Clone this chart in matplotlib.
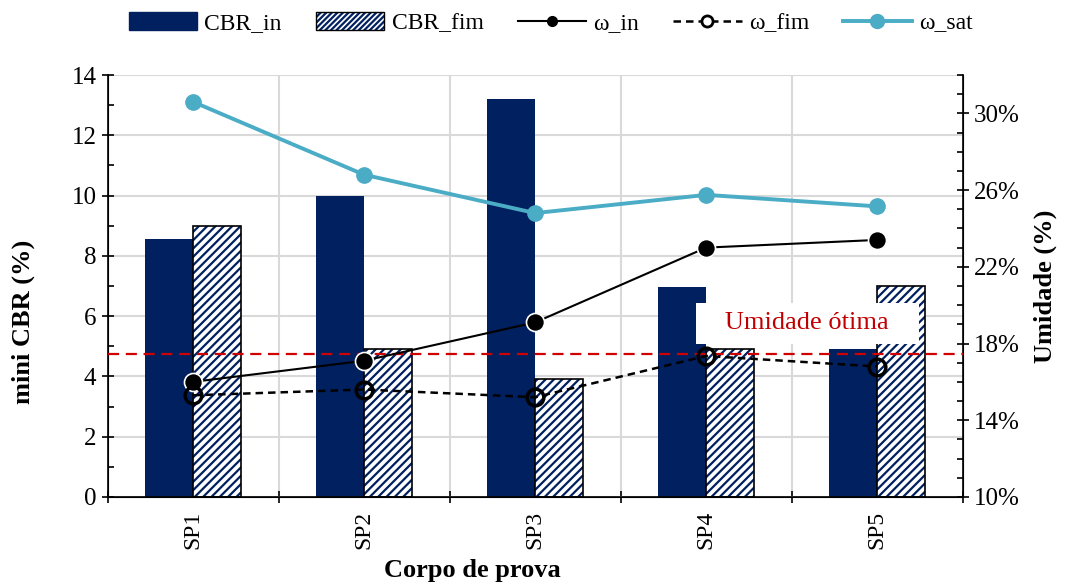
import matplotlib
matplotlib.use("Agg")
import matplotlib.pyplot as plt
from matplotlib.ticker import MultipleLocator, FuncFormatter
from matplotlib.lines import Line2D
from matplotlib.patches import Patch
from matplotlib.legend_handler import HandlerTuple
import numpy as np

# dados
corpos = ["SP1", "SP2", "SP3", "SP4", "SP5"]
cbr_in = [8.55, 10.0, 13.2, 6.95, 4.9]
cbr_fim = [9.0, 4.9, 3.9, 4.9, 7.0]
w_in = [16.0, 17.1, 19.1, 23.0, 23.4]
w_fim = [15.3, 15.6, 15.2, 17.35, 16.8]
w_sat = [30.6, 26.8, 24.8, 25.75, 25.15]
w_otima = 17.45
ticks_umidade = [10, 14, 18, 22, 26, 30]

NAVY = "#002060"
CIANO = "#4BACC6"

plt.rcParams["font.family"] = ["Liberation Serif", "DejaVu Serif"]
plt.rcParams["hatch.linewidth"] = 1.6
plt.rcParams["hatch.color"] = NAVY

fig = plt.figure(figsize=(10.65, 5.86), dpi=100)
ax = fig.add_axes([0.101, 0.152, 0.803, 0.72])
ax2 = ax.twinx()

x = np.arange(len(corpos))
w = 0.28

# barras
ax.bar(x - w / 2, cbr_in, width=w, color=NAVY, zorder=2)
ax.bar(x + w / 2, cbr_fim, width=w, color="white", edgecolor=NAVY,
       hatch="////", linewidth=0, zorder=2)
ax.bar(x + w / 2, cbr_fim, width=w, fill=False, edgecolor="black",
       linewidth=1.2, zorder=3)

ax.set_xlim(-0.5, 4.5)
ax.set_ylim(0, 14)
ax.yaxis.set_major_locator(MultipleLocator(2))
ax.yaxis.set_minor_locator(MultipleLocator(1))
ax.set_xticks(x)
ax.set_xticks(np.arange(-0.5, 5, 1), minor=True)
ax.set_xticklabels(corpos, rotation=90, fontsize=17)
ax.tick_params(axis="y", which="major", labelsize=18, direction="inout",
               length=8, width=1.2, pad=4)
ax.tick_params(axis="y", which="minor", direction="in", length=4, width=1.2)
ax.tick_params(axis="x", which="major", length=0, pad=10)
ax.tick_params(axis="x", which="minor", direction="inout", length=8,
               width=1.2)
ax.set_ylabel("mini CBR (%)", fontsize=19, fontweight="bold")
ax.set_xlabel("Corpo de prova", fontsize=19, fontweight="bold")
ax.yaxis.set_label_coords(-0.085, 0.415)
ax.xaxis.set_label_coords(0.426, -0.147)

# grade
ax.set_axisbelow(True)
ax.grid(axis="y", which="major", color="#D9D9D9", linewidth=1.5)
for b in np.arange(0.5, 4.5, 1):
    ax.axvline(b, color="#D9D9D9", linewidth=1.5, zorder=0)
ax.spines["top"].set_visible(False)
ax2.spines["top"].set_visible(False)
for s in ["left", "right", "bottom"]:
    ax2.spines[s].set_linewidth(1.2)

# linhas de umidade
ax2.plot(x, w_sat, color=CIANO, linewidth=2.8, marker="o", markersize=11,
         zorder=5)
ax2.plot(x, w_in, color="black", linewidth=1.5, marker="o", markersize=13,
         markerfacecolor="black", markeredgecolor="white",
         markeredgewidth=1.2, zorder=6)
ax2.plot(x, w_fim, color="black", linewidth=1.8, linestyle=(0, (3, 2)),
         marker="o", markersize=12, markerfacecolor="none",
         markeredgecolor="black", markeredgewidth=2.5, zorder=6)
ax2.axhline(w_otima, color="#D00000", linewidth=1.6, linestyle=(0, (5, 3)),
            zorder=4)
ax2.text(3.59, 19.05, "   Umidade ótima   ", color="#C00000", fontsize=19,
         ha="center", va="center", zorder=7,
         bbox=dict(facecolor="white", edgecolor="none", pad=7))

ax2.set_ylim(10, 32)
ax2.set_yticks(ticks_umidade)
ax2.yaxis.set_minor_locator(MultipleLocator(1))
ax2.yaxis.set_major_formatter(FuncFormatter(lambda v, p: f"{v:.0f}%"))
ax2.tick_params(axis="y", which="major", labelsize=18, direction="inout",
                length=8, width=1.2, pad=4)
ax2.tick_params(axis="y", which="minor", direction="in", length=4, width=1.2)
ax2.set_ylabel("Umidade (%)", fontsize=19, fontweight="bold", labelpad=10)

# legenda
hatch_leg = Patch(facecolor="white", edgecolor=NAVY, hatch="//////",
                  linewidth=0)
borda_leg = Patch(facecolor="none", edgecolor="black", linewidth=1)
handles = [
    Patch(facecolor=NAVY, edgecolor=NAVY),
    (hatch_leg, borda_leg),
    Line2D([], [], color="black", linewidth=1.5, marker="o", markersize=7),
    Line2D([], [], color="black", linewidth=1.8, linestyle=(0, (3, 2)),
           marker="o", markersize=8, markerfacecolor="white",
           markeredgewidth=2),
    Line2D([], [], color=CIANO, linewidth=2.8, marker="o", markersize=10),
]
labels = ["CBR_in", "CBR_fim", "ω_in", "ω_fim", "ω_sat"]
fig.legend(handles, labels, loc="upper center", ncol=5,
           bbox_to_anchor=(0.517, 1.015), frameon=False, fontsize=17,
           handlelength=2.9, handleheight=0.75, columnspacing=1.45,
           handletextpad=0.3,
           handler_map={tuple: HandlerTuple(ndivide=1, pad=0)})

fig.savefig("out.png", dpi=100)
